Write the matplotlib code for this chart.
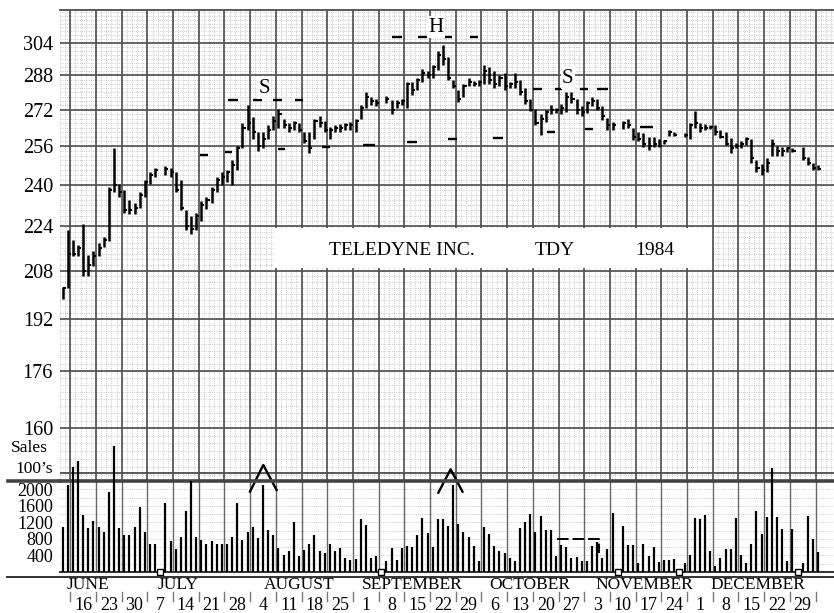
import numpy as np
import matplotlib.pyplot as plt
import matplotlib.transforms as mtransforms
from matplotlib.lines import Line2D
from matplotlib.patches import Rectangle

nan = np.nan

# one bar per trading day, Thu 7 June .. Mon 31 Dec 1984 (nan = market holiday)
high = [202.5, 222.6, 219, 217, 225, 213.5, 215, 218, 220, 239,
        255, 240.5, 238, 234, 233, 237, 242, 245, 247, nan,
        247.5, 247, 245, 242, 230, 228, 229, 233.5, 235, 239,
        243, 245, 246, 250, 256, 266, 274, 268.7, 262, 262,
        265, 269, 272.5, 268, 266, 267, 266, 262, 262, 268,
        269, 267, 264.5, 265, 265.5, 266, 266.5, 268, 274, 280,
        278, 277, nan, 278.5, 276.5, 276.5, 277, 285, 285, 287,
        291, 290, 293, 300, 303, 297, 286, 281, 284, 287,
        285.5, 286, 293, 292, 290, 288, 289, 285, 289, 286,
        282, 277, 272.5, 270, 272, 274, 273, 274.5, 280, 280,
        277, 273.5, 276, 278, 277, 273.5, 268.5, 266.5, nan, 267,
        268, 264, 262, 261.6, 260, 260, 259, 258.6, 263, 262,
        nan, 261.5, 266, 271.5, 266, 265.5, 265, 265, 263, 262,
        259.5, 257.5, 258, 260, 259, 250, 248.5, 251, 259, 256,
        255.5, 255.5, 255, nan, 255.5, 251.5, 249, 248]
low = [198.5, 202, 213, 213, 206, 206, 209.5, 213, 216.5, 218.5,
       237, 235, 229, 228.5, 228.5, 231, 235, 240.5, 243, nan,
       244, 243, 237, 230, 222.6, 221, 222.6, 226, 230.5, 233,
       237, 240, 241, 240, 246, 255, 263, 259, 254, 255,
       259, 263, 264, 264, 262, 263, 262, 257.5, 253, 259,
       264.5, 262, 259, 262, 262, 263, 263, 262, 268, 273,
       274, 273.5, nan, 275, 270, 273, 274, 273, 279, 281,
       285, 287, 287, 290.7, 293, 286, 282, 275.6, 278, 283,
       283, 283, 284, 284, 282, 283, 281, 282, 282, 279,
       274.5, 271.5, 265, 260.8, 266.5, 270, 270.5, 270, 271, 275,
       270, 269, 270.5, 273.5, 272, 267.5, 263, 263, nan, 263.5,
       264, 258.6, 258, 255.5, 254.5, 255.5, 255.5, 257, 260.5, 260.5,
       nan, 260, 259, 264, 262, 263, 263.5, 261, 259.5, 256.5,
       253, 255, 255, 256.5, 249, 245, 244, 245, 252, 252,
       252, 253.5, 253.5, nan, 250, 248, 246, 246]
close = [202, 214, 214, 216, 208, 210, 213, 216, 219, 238,
         240, 237, 230, 230, 231, 236, 241, 244, 246, nan,
         246.5, 245, 238, 231, 224, 223, 228, 232, 234, 238,
         242, 243, 245, 248, 255, 264, 266, 262, 256, 259,
         263, 267, 270, 265, 264, 266, 263, 258, 255, 267,
         266, 263, 263, 264, 264, 265, 265, 267, 273, 278,
         276, 275, nan, 277, 272, 275, 276, 284, 281, 286,
         289, 288, 292, 298, 296, 287, 283, 277, 283, 285,
         284, 285, 290, 286, 284, 287, 283, 284, 285, 280,
         276, 272, 266, 268, 271, 272, 272, 273, 278, 277,
         272, 271, 275, 276, 273, 269, 265, 265, nan, 266,
         265, 260, 259, 257, 256, 257, 256, 258, 262, 261,
         nan, 261, 265, 266, 264, 264, 264.5, 262, 260, 257,
         255, 256, 257, 259, 251, 247, 246, 249, 257, 254,
         254, 255, 254, nan, 251, 249, 247, 246.5]
# sales in hundreds of shares
volume = [1100, 2100, 2550, 2700, 1390, 1060, 1240, 1090, 960, 1950,
          3060, 1060, 890, 900, 1080, 1570, 960, 680, 670, nan,
          1670, 760, 560, 860, 1470, 2200, 860, 770, 680, 740,
          690, 680, 690, 840, 1670, 770, 960, 1090, 820, 2120,
          1030, 890, 590, 420, 510, 1220, 390, 530, 670, 890,
          510, 470, 680, 520, 590, 340, 280, 320, 1290, 1130,
          340, 380, nan, 270, 580, 280, 580, 630, 600, 890,
          1320, 950, 610, 1290, 1290, 1110, 2110, 1160, 970, 840,
          630, 270, 1080, 920, 630, 510, 460, 340, 270, 1070,
          1220, 1410, 960, 1350, 1010, 1010, 380, 660, 610, 340,
          360, 270, 270, 630, 720, 340, 550, 1440, nan, 1110,
          650, 660, 210, 670, 390, 610, 250, 290, 290, 310,
          nan, 230, 420, 1310, 1280, 1390, 510, 150, 350, 550,
          550, 1310, 400, 210, 670, 1490, 920, 1330, 2530, 1330,
          1050, 270, 1050, nan, 230, 1350, 790, 490]

price_ticks = [160, 176, 192, 208, 224, 240, 256, 272, 288, 304]
volume_ticks = [400, 800, 1200, 1600, 2000]
week_labels = ['16', '23', '30', '7', '14', '21', '28', '4', '11', '18', '25',
               '1', '8', '15', '22', '29', '6', '13', '20', '27', '3', '10',
               '17', '24', '1', '8', '15', '22', '29']
months = ['JUNE', 'JULY', 'AUGUST', 'SEPTEMBER', 'OCTOBER', 'NOVEMBER', 'DECEMBER']
month_pos = [5.4, 23.0, 46.5, 68.5, 91.4, 113.6, 135.8]

# head and shoulders marks: (day from, day to, price)
marks = [(27.2, 28.8, 252.2), (32.1, 33.5, 253.5), (32.7, 34.6, 276.5),
         (37.5, 39.3, 276.5), (41.4, 43.2, 276.5), (45.7, 47.3, 276.5),
         (42.4, 43.8, 254.6), (51.0, 52.5, 255.6), (59.0, 61.3, 256.4),
         (64.6, 66.5, 307.2), (69.6, 71.4, 307.2), (74.5, 76.3, 307.2),
         (79.8, 81.3, 307.2), (67.5, 69.5, 257.7), (75.5, 77.2, 259.0),
         (84.2, 86.2, 259.6), (92.0, 93.8, 281.7), (96.3, 97.7, 281.7),
         (101.2, 102.7, 281.7), (104.5, 106.6, 281.7), (94.7, 96.3, 262.3),
         (102.1, 103.7, 263.6), (112.8, 115.4, 264.3)]
pattern_labels = [('S', 39.7, 281.9), ('H', 73.2, 312.2), ('S', 98.8, 286.6)]

plt.rcParams['font.family'] = ['Liberation Serif', 'DejaVu Serif']

high = np.array(high)
low = np.array(low)
close = np.array(close)
volume = np.array(volume)
days = np.arange(len(high)) + 0.5
ok = ~np.isnan(high)

W, H = 834, 613
fig = plt.figure(figsize=(W / 100, H / 100), dpi=100)
ax = fig.add_axes([60 / W, (H - 481) / H, (W - 60) / W, (481 - 10) / H])
axv = fig.add_axes([60 / W, (H - 572) / H, (W - 60) / W, (572 - 481) / H])

xmax = (W - 60) / 5.14
week_lines = np.arange(2, xmax, 5)

# price panel (ratio scale paper)
ax.set_yscale('log')
ax.set_xlim(0, xmax)
ax.set_ylim(146.5, 321.2)
for d in np.arange(0, xmax, 1):
    ax.axvline(d, color='#b8b8b8', lw=0.6, ls=(0, (1, 1.6)), zorder=1)
for p in np.arange(148, 321, 2):
    ax.axhline(p, color='#b8b8b8', lw=0.6, ls=(0, (1, 1.6)), zorder=1)
for d in week_lines:
    ax.axvline(d, color='#4d4d4d', lw=1.2, zorder=1.5)
for p in price_ticks:
    ax.axhline(p, color='#4d4d4d', lw=1.2, zorder=1.5)
ax.axhline(148.4, color='#4d4d4d', lw=1.3, zorder=1.5)

ax.add_patch(Rectangle((41.8, 208.9), 85, 14.5, facecolor='white',
                       edgecolor='none', zorder=2))
ax.text(66.5, 215.3, 'TELEDYNE INC.', ha='center', va='center', fontsize=14, zorder=3)
ax.text(96.3, 215.3, 'TDY', ha='center', va='center', fontsize=14, zorder=3)
ax.text(115.8, 215.3, '1984', ha='center', va='center', fontsize=14, zorder=3)

ax.vlines(days[ok], low[ok], high[ok], color='black', lw=1.8, zorder=4)
ax.hlines(close[ok], days[ok], days[ok] + 0.6, color='black', lw=1.5, zorder=4)
for d0, d1, p in marks:
    ax.hlines(p, d0, d1, color='black', lw=1.7, zorder=4)
for s, d, p in pattern_labels:
    ax.text(d, p, s, ha='center', va='center', fontsize=15, zorder=5,
            bbox=dict(facecolor='white', edgecolor='none', pad=1))

ax.set_yticks(price_ticks)
ax.set_yticklabels([str(p) for p in price_ticks], fontsize=14.5)
ax.yaxis.set_minor_locator(plt.NullLocator())
ax.tick_params(axis='y', length=0, pad=5)
ax.set_xticks([])
for s in ['left', 'right', 'bottom']:
    ax.spines[s].set_visible(False)
ax.spines['top'].set_color('#4d4d4d')
ax.spines['top'].set_linewidth(1.3)

# volume panel
axv.set_xlim(0, xmax)
axv.set_ylim(0, 2206)
axv.patch.set_alpha(0)
for v in np.arange(200, 2206, 200):
    axv.axhline(v, color='#b8b8b8', lw=0.6, ls=(0, (1, 1.6)), zorder=1)
for d in week_lines:
    axv.axvline(d, color='#666666', lw=1.0, zorder=1.5)
axv.vlines(days[ok], 0, volume[ok], color='black', lw=1.6, zorder=4, clip_on=False)
axv.plot([36.96, 39.55, 42.14], [1947, 2594, 1988], color='black', lw=1.7, clip_on=False)
axv.plot([73.6, 76.0, 78.3], [1922, 2490, 1947], color='black', lw=1.7, clip_on=False)
axv.plot([96.6, 104.8, 104.8], [793, 793, 460], color='black', lw=1.4, ls=(0, (6, 2)))
axv.plot(days[~ok], np.zeros((~ok).sum()), ls='none', marker='s', ms=4.5, mfc='white',
         mec='black', mew=1.0, clip_on=False, zorder=5)

axv.set_yticks(volume_ticks)
axv.set_yticklabels([str(v) for v in volume_ticks], fontsize=13)
axv.tick_params(axis='y', length=0, pad=5)
axv.set_xticks([])
for s in ['left', 'right']:
    axv.spines[s].set_visible(False)
axv.spines['top'].set_color('#444444')
axv.spines['top'].set_linewidth(2.6)
axv.spines['bottom'].set_color('#333333')
axv.spines['bottom'].set_linewidth(1.4)

# separators running into the left margin
fig.add_artist(Line2D([8 / W, 60 / W], [(H - 481) / H] * 2, color='#444444', lw=2.6))
fig.add_artist(Line2D([7 / W, 1], [(H - 577) / H] * 2, color='#333333', lw=1.4))

fig.text(29 / W, (H - 448) / H, 'Sales', ha='center', va='center', fontsize=12.5)
fig.text(34 / W, (H - 469) / H, '100\u2019s', ha='center', va='center', fontsize=12.5)

# month and week-ending dates
tr = mtransforms.blended_transform_factory(axv.transData, fig.transFigure)
for m, d in zip(months, month_pos):
    axv.text(d, (H - 585) / H, m, transform=tr, ha='center', va='center', fontsize=12.5)
for k, lab in enumerate(week_labels):
    axv.text(week_lines[k] + 2.5, (H - 605) / H, lab, transform=tr, ha='center',
             va='center', fontsize=13)
for d in week_lines:
    axv.plot([d, d], [(H - 601) / H, (H - 592) / H], transform=tr, color='#777777',
             lw=1.0, clip_on=False)

fig.savefig('out.png', dpi=100)
